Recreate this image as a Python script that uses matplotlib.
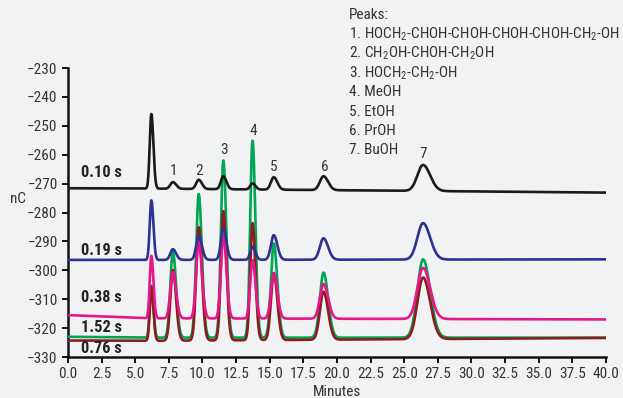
import numpy as np
import matplotlib
matplotlib.use("Agg")
import matplotlib.pyplot as plt

FONT = ["Roboto Condensed", "DejaVu Sans"]
plt.rcParams.update({
    "font.family": FONT,
    "mathtext.fontset": "custom",
    "mathtext.rm": "Roboto Condensed",
    "axes.unicode_minus": True,
})
BG = "#f1f2f4"

# retention times (min): system peak + peaks 1..7
t_ret = [6.2, 7.8, 9.72, 11.55, 13.72, 15.3, 19.0, 26.4]
sigma = [0.12, 0.19, 0.19, 0.18, 0.17, 0.21, 0.27, 0.42]

# baseline (nC) read at t = 0, 6, 40 min
base_t = [0.0, 6.0, 40.0]
series = ["0.10 s", "0.19 s", "0.38 s", "1.52 s", "0.76 s"]
colors = ["#1a1a1a", "#2e3192", "#e8168b", "#00a651", "#8c1c1f"]
baselines = [
    [-271.6, -271.7, -273.1],
    [-296.4, -296.4, -296.2],
    [-315.5, -316.6, -317.0],
    [-323.0, -323.3, -323.3],
    [-324.3, -324.4, -323.4],
]
# peak heights above baseline (nC)
heights = [
    [25.8, 2.3, 3.2, 4.5, 2.1, 4.3, 4.8, 9.0],
    [20.6, 3.7, 8.2, 10.8, 4.5, 8.5, 7.4, 12.6],
    [21.6, 16.1, 26.5, 28.8, 20.2, 15.6, 12.0, 17.7],
    [18.0, 29.7, 49.7, 61.3, 68.2, 32.6, 22.5, 27.1],
    [18.6, 24.4, 39.2, 44.7, 40.5, 23.2, 16.6, 21.3],
]
label_y = [-266.2, -293.0, -309.3, -319.7, -327.0]

peak_nums = ["1", "2", "3", "4", "5", "6", "7"]
peak_lbl_x = [7.83, 9.77, 11.6, 13.78, 15.3, 19.06, 26.4]
peak_lbl_y = [-265.6, -265.6, -258.4, -251.7, -264.1, -264.1, -259.8]

legend_lines = [
    "Peaks:",
    "1. HOCH$_2$-CHOH-CHOH-CHOH-CHOH-CH$_2$-OH",
    "2. CH$_2$OH-CHOH-CH$_2$OH",
    "3. HOCH$_2$-CH$_2$-OH",
    "4. MeOH",
    "5. EtOH",
    "6. PrOH",
    "7. BuOH",
]

t = np.linspace(0, 40, 3000)


def trace(base, h):
    y = np.interp(t, base_t, base)
    for tr, s, hh in zip(t_ret, sigma, h):
        sd = np.where(t < tr, s, s * 1.25)
        y = y + hh * np.exp(-0.5 * ((t - tr) / sd) ** 2)
    return y


fig = plt.figure(figsize=(6.23, 3.98), dpi=100, facecolor=BG)
ax = fig.add_axes([0.1091, 0.103, 0.8636, 0.726], facecolor=BG)

order = [3, 4, 2, 1, 0]
for i in order:
    ax.plot(t, trace(baselines[i], heights[i]), color=colors[i], lw=1.9,
            solid_capstyle="round", zorder=3 + order.index(i))

for name, yy in zip(series, label_y):
    ax.text(0.95, yy, name, fontsize=11.8, fontweight="bold", color="#222",
            ha="left", va="center", zorder=10)

for n, x, y in zip(peak_nums, peak_lbl_x, peak_lbl_y):
    ax.text(x, y, n, fontsize=11, color="#333", ha="center", va="center")

for k, line in enumerate(legend_lines):
    fig.text(349 / 623, 1 - (15 + k * 19.3) / 398, line, fontsize=11,
             color="#333", ha="left", va="center")

ax.set_xlim(0, 40)
ax.set_ylim(-330, -230)
ax.set_xticks(np.arange(0, 40.1, 2.5))
ax.set_xticklabels([f"{v:.1f}" for v in np.arange(0, 40.1, 2.5)])
ax.set_yticks(np.arange(-330, -229, 10))
ax.set_yticklabels([f"\u2212{abs(v)}" for v in range(-330, -229, 10)])
for sp in ["top", "right"]:
    ax.spines[sp].set_visible(False)
for sp in ["left", "bottom"]:
    ax.spines[sp].set_linewidth(1.8)
    ax.spines[sp].set_color("#111")
ax.tick_params(direction="out", length=4.5, width=1.4, color="#111",
               labelsize=11, labelcolor="#333", pad=3)
ax.set_xlabel("Minutes", fontsize=11, color="#333", labelpad=2.5)
ax.set_ylabel("nC", fontsize=11, color="#333", rotation=0, va="center")
ax.yaxis.set_label_coords(-0.093, 0.547)

fig.savefig("out.png", dpi=100, facecolor=BG)
